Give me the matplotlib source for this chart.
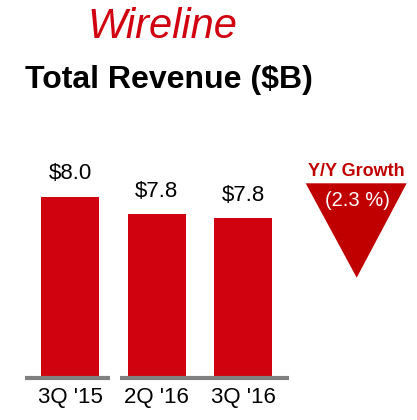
import matplotlib.pyplot as plt
from matplotlib.patches import Polygon

plt.rcParams['font.family'] = ['Liberation Sans', 'DejaVu Sans']

# data
quarters = ["3Q '15", "2Q '16", "3Q '16"]
revenue = [8.0, 7.8, 7.75]
revenue_labels = ['$8.0', '$7.8', '$7.8']
yy_growth = -2.3

BAR_RED = '#D0020F'
DARK_RED = '#C00000'

W, H = 417, 420
fig = plt.figure(figsize=(W / 100, H / 100), dpi=100)

# axes placed in pixel terms: x 25..289, baseline at y=376, top at y=100
ax = fig.add_axes([25 / W, (H - 376) / H, 264 / W, 276 / H])
px_per_unit = 86.5
ymin = revenue[0] - 179.3 / px_per_unit
ax.set_ylim(ymin, ymin + 276 / px_per_unit)
ax.set_xlim(-0.52, 2.53)

x = list(range(len(quarters)))
bars = ax.bar(x, revenue, width=0.67, color=BAR_RED, zorder=2)

for bar, lab in zip(bars, revenue_labels):
    ax.annotate(lab, (bar.get_x() + bar.get_width() / 2, bar.get_height()),
                xytext=(0, 12.5), textcoords='offset points',
                ha='center', va='baseline', fontsize=16, color='black')

# grey baseline with a small break after the first bar
y_line = ymin - 2 / px_per_unit
for x0, x1 in [(-0.52, 0.46), (0.58, 2.53)]:
    ax.plot([x0, x1], [y_line, y_line], color='#808080', lw=3,
            solid_capstyle='butt', clip_on=False, zorder=3)

ax.set_xticks(x)
ax.set_xticklabels(quarters, fontsize=16)
ax.tick_params(axis='x', length=0, pad=8)
ax.set_yticks([])
for s in ax.spines.values():
    s.set_visible(False)

# titles
fig.text(162 / W, 1 - 27 / H, 'Wireline', color=BAR_RED, fontsize=30,
         fontstyle='italic', ha='center', va='center')
fig.text(169 / W, 1 - 80 / H, 'Total Revenue ($B)', color='black', fontsize=23,
         fontweight='bold', ha='center', va='center')

# Y/Y growth triangle
tri = Polygon([(305.7 / W, 1 - 183.3 / H), (406.7 / W, 1 - 183.3 / H),
               (356.7 / W, 1 - 277.7 / H)], closed=True,
              transform=fig.transFigure, facecolor=DARK_RED, edgecolor='none')
fig.patches.append(tri)
fig.text(356 / W, 1 - 172 / H, 'Y/Y Growth', color=DARK_RED, fontsize=13,
         fontweight='bold', ha='center', va='center')
fig.text(357 / W, 1 - 200 / H, f'({abs(yy_growth):.1f} %)', color='white',
         fontsize=14.5, ha='center', va='center')

fig.savefig('out.png', dpi=100)
